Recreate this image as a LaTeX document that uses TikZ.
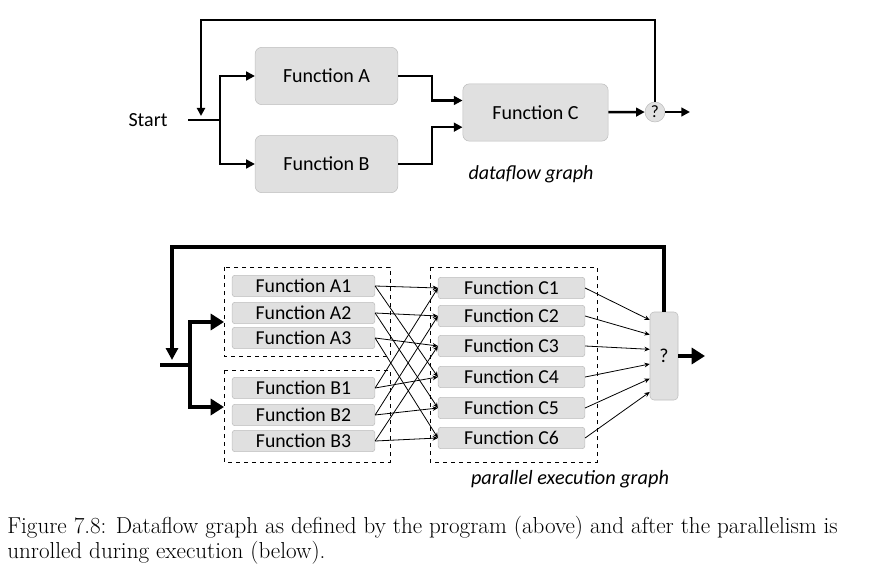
\documentclass[tikz,border=0pt]{standalone}
\usepackage{fontspec}
\newfontfamily\diagfont{Carlito}
\usetikzlibrary{arrows.meta}
\definecolor{BoxFill}{RGB}{224,224,224}
\definecolor{BoxLine}{RGB}{190,190,190}

\tikzset{
  funcbig/.style={draw=BoxLine, fill=BoxFill, rounded corners=5pt, minimum width=107pt,
    minimum height=43pt, font=\diagfont\fontsize{15}{17}\selectfont},
  funcsmall/.style={draw=BoxLine, fill=BoxFill, rounded corners=2pt, minimum width=107pt,
    minimum height=16pt, inner sep=0pt, font=\diagfont\fontsize{14.8}{16}\selectfont},
  flow/.style={line width=1.9pt, -{Triangle[length=6.5pt,width=6.5pt]}},
  fatflow/.style={line width=3.6pt, -{Triangle[length=10pt,width=12pt]}},
  thinflow/.style={line width=0.6pt, -{Stealth[length=4pt,width=3.5pt]}},
  group/.style={draw, dashed, line width=0.6pt},
}

\begin{document}
\begin{tikzpicture}[x=0.75pt, y=-0.75pt]
  \useasboundingbox (0,0) rectangle (873,566);

  % dataflow graph (above)
  \node[font=\diagfont\fontsize{15}{17}\selectfont] (start) at (148,120) {Start};
  \node[funcbig] (fA) at (326.5,76) {Function A};
  \node[funcbig] (fB) at (326.5,164) {Function B};
  \node[funcbig, minimum width=109pt] (fC) at (535.5,112.5) {Function C};
  \node[draw=BoxLine, fill=BoxFill, circle, minimum size=15pt, inner sep=0pt,
    font=\diagfont\fontsize{13}{15}\selectfont] (qT) at (655,112) {?};
  \node[font=\diagfont\itshape\fontsize{15}{17}\selectfont] (dflow) at (531,174) {dataflow graph};

  \coordinate (startT) at (188,120);
  \coordinate (splitT) at (220,120);
  \coordinate (outT) at (690,112);
  \coordinate (topT) at (201,20);
  \coordinate (backT) at (201,116);

  \draw[line width=1.9pt] (startT) -- (splitT);
  \draw[flow] (splitT) |- (fA);
  \draw[flow] (splitT) |- (fB);
  \draw[flow] (fA.east) -- ++(34,0) |- ([yshift=9pt]fC.west);
  \draw[flow] (fB.east) -- ++(34,0) |- ([yshift=-11pt]fC.west);
  \draw[flow] (fC) -- (qT);
  \draw[flow] (qT) -- (outT);
  \draw[line width=1.6pt, -{Triangle[length=6pt,width=6pt]}] (qT.north) |- (topT) -- (backT);

  % parallel execution graph (below)
  \draw[group] (224,267) rectangle (390,356);
  \draw[group] (224,370) rectangle (390,462);
  \draw[group] (430,267) rectangle (597,462);

  \foreach \n/\y in {1/286,2/313,3/338}
    \node[funcsmall] (a\n) at (303.5,\y) {Function A\n};
  \foreach \n/\y in {1/388,2/415,3/441}
    \node[funcsmall] (b\n) at (303.5,\y) {Function B\n};
  \foreach \n/\y in {1/288,2/316,3/346,4/377,5/408,6/438}
    \node[funcsmall, minimum width=110pt] (c\n) at (511.5,\y) {Function C\n};
  \node[draw=BoxLine, fill=BoxFill, rounded corners=3pt, minimum width=21pt, minimum height=66pt,
    font=\diagfont\fontsize{14.8}{16}\selectfont] (qB) at (664,356) {?};
  \node[font=\diagfont\itshape\fontsize{15.2}{17}\selectfont] (pexec) at (570,479) {parallel execution graph};

  \coordinate (startB) at (160,365);
  \coordinate (splitB) at (190,365);
  \coordinate (inA) at (224,322);
  \coordinate (inB) at (224,407);
  \coordinate (outB) at (705,356);
  \coordinate (topB) at (172,247);
  \coordinate (backB) at (172,360);

  \draw[line width=3.6pt] (startB) -- (splitB);
  \draw[fatflow] (splitB) |- (inA);
  \draw[fatflow] (splitB) |- (inB);
  \draw[fatflow] (qB) -- (outB);
  \draw[line width=3.2pt, -{Triangle[length=9pt,width=9pt]}] (qB.north) |- (topB) -- (backB);

  \foreach \i/\j in {1/4,2/5,3/6} {
    \draw[thinflow] (a\i.east) -- (c\i.west);
    \draw[thinflow] (a\i.east) -- (c\j.west);
    \draw[thinflow] (b\i.east) -- (c\j.west);
    \draw[thinflow] (b\i.east) -- (c\i.west);
  }
  \foreach \i/\dy in {1/27,2/16,3/5,4/-6,5/-17,6/-27}
    \draw[thinflow] (c\i.east) -- ([yshift=\dy pt]qB.west);

  % caption
  \node[anchor=west, align=left, inner sep=0pt, font=\fontsize{17.3}{18.8}\selectfont] (caption)
    at (7,540) {Figure 7.8: Dataflow graph as defined by the program (above) and after the parallelism is\\
    unrolled during execution (below).};
\end{tikzpicture}
\end{document}
